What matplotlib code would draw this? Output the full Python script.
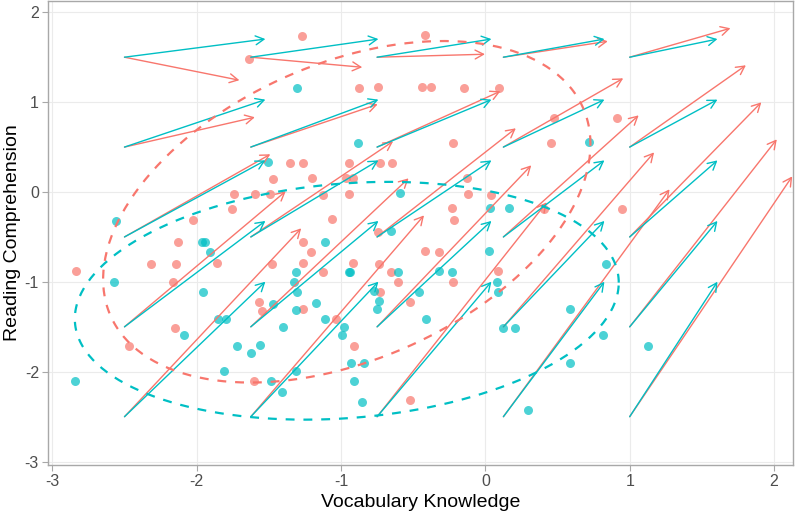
import numpy as np
import matplotlib.pyplot as plt
from matplotlib.patches import FancyArrowPatch

plt.rcParams['font.family'] = ['Liberation Sans', 'DejaVu Sans']
plt.rcParams['axes.unicode_minus'] = False

RED = '#F8766D'
TEAL = '#00BFC4'

# observed scores
red_x = [-1.267, -1.64, -0.415, -0.872, -0.741, -0.436, -0.374, -0.145, 0.098, 0.479,
         0.915, 0.458, -0.221, -1.351, -1.261, -0.942, -0.727, -0.644, -1.468, -1.198,
         -0.963, -0.914, -0.13, -1.738, -1.593, -1.489, -1.122, -0.942, -0.117, 0.042,
         -1.753, -0.228, 0.403, 0.95, -2.023, -1.06, -0.214, -2.127, -1.261, -1.206,
         -0.741, -0.415, -0.318, -2.834, -2.314, -2.141, -1.856, -1.475, -1.26, -0.914,
         -0.734, -1.122, -0.651, 0.091, -2.161, -0.602, -0.221, -0.727, -1.566, -1.545,
         -1.261, -1.032, -0.519, -2.148, -2.466, -0.907, -1.6, -0.519]
red_y = [1.733, 1.478, 1.744, 1.156, 1.167, 1.167, 1.167, 1.156, 1.156, 0.822,
         0.822, 0.544, 0.544, 0.322, 0.322, 0.322, 0.322, 0.322, 0.144, 0.156,
         0.156, 0.156, 0.156, -0.022, -0.022, -0.022, -0.033, -0.022, -0.022, -0.033,
         -0.189, -0.178, -0.189, -0.189, -0.311, -0.3, -0.311, -0.556, -0.556, -0.667,
         -0.444, -0.656, -0.667, -0.878, -0.8, -0.8, -0.789, -0.8, -0.789, -0.789,
         -0.8, -0.889, -0.889, -0.878, -1.0, -1.0, -1.0, -1.111, -1.222, -1.322,
         -1.3, -1.411, -1.222, -1.511, -1.711, -1.711, -2.1, -2.311]

teal_x = [-1.302, -0.88, 0.721, -1.503, -0.588, 0.035, 0.167, -2.556, -1.96, -1.945,
          -1.905, -1.108, -0.651, 0.028, 0.839, -1.309, -0.942, -0.935, -0.602, -0.318,
          -0.228, -2.57, -1.953, -1.323, -1.302, -0.769, -0.457, 0.084, 0.091, -1.468,
          -1.17, -0.734, -1.309, -0.748, 0.583, -1.849, -1.794, -1.108, -0.408, -1.399,
          -0.976, 0.125, 0.202, -2.085, -0.99, 0.818, -1.718, -1.559, -1.621, 1.13,
          -0.928, -0.838, 0.583, -1.808, -1.309, -2.84, -1.482, -0.907, -1.406, -0.858,
          0.292]
teal_y = [1.156, 0.544, 0.556, 0.333, -0.011, -0.178, -0.178, -0.322, -0.556, -0.556,
          -0.667, -0.556, -0.433, -0.656, -0.8, -0.889, -0.889, -0.889, -0.889, -0.878,
          -0.889, -1.0, -1.111, -1.0, -1.111, -1.1, -1.111, -1.0, -1.111, -1.244,
          -1.233, -1.211, -1.311, -1.3, -1.3, -1.411, -1.411, -1.411, -1.411, -1.5,
          -1.5, -1.511, -1.511, -1.589, -1.589, -1.589, -1.711, -1.7, -1.789, -1.711,
          -1.9, -1.9, -1.9, -1.989, -1.989, -2.1, -2.1, -2.1, -2.222, -2.333,
          -2.422]

# vector field: start grid and displacement per start point (rows = y, cols = x)
grid_x = [-2.5, -1.625, -0.75, 0.125, 1.0]
grid_y = [-2.5, -1.5, -0.5, 0.5, 1.5]

red_dx = [[1.224, 1.200, 1.175, 1.151, 1.126],
          [1.117, 1.093, 1.068, 1.044, 1.019],
          [1.010, 0.986, 0.961, 0.937, 0.912],
          [0.903, 0.879, 0.854, 0.830, 0.805],
          [0.796, 0.772, 0.747, 0.723, 0.698]]
red_dy = [[2.096, 2.240, 2.385, 2.530, 2.674],
          [1.508, 1.652, 1.797, 1.941, 2.086],
          [0.920, 1.064, 1.209, 1.353, 1.498],
          [0.332, 0.476, 0.621, 0.765, 0.910],
          [-0.256, -0.112, 0.033, 0.177, 0.322]]
teal_dx = [[0.976, 0.884, 0.792, 0.700, 0.608],
           [0.976, 0.884, 0.792, 0.700, 0.608],
           [0.976, 0.884, 0.792, 0.700, 0.608],
           [0.976, 0.884, 0.792, 0.700, 0.608],
           [0.976, 0.884, 0.792, 0.700, 0.608]]
teal_dy = [[1.502, 1.502, 1.502, 1.502, 1.502],
           [1.178, 1.178, 1.178, 1.178, 1.178],
           [0.852, 0.852, 0.852, 0.852, 0.852],
           [0.528, 0.528, 0.528, 0.528, 0.528],
           [0.202, 0.202, 0.202, 0.202, 0.202]]

# 95% ellipses: centre and shape matrix
red_centre = (-0.96, -0.22)
red_shape = [[2.85, 1.27], [1.27, 3.61]]
teal_centre = (-0.96, -1.21)
teal_shape = [[3.55, 0.38], [0.38, 1.75]]

fig = plt.figure(figsize=(8, 5.13), dpi=100)
ax = fig.add_axes([0.06, 0.094, 0.931, 0.904])

ax.scatter(red_x, red_y, s=42, color=RED, alpha=0.7, linewidths=0, zorder=2)
ax.scatter(teal_x, teal_y, s=42, color=TEAL, alpha=0.7, linewidths=0, zorder=2)

gx, gy = np.meshgrid(grid_x, grid_y)
for dx, dy, col in [(red_dx, red_dy, RED), (teal_dx, teal_dy, TEAL)]:
    dx = np.array(dx)
    dy = np.array(dy)
    for x0, y0, u, v in zip(gx.ravel(), gy.ravel(), dx.ravel(), dy.ravel()):
        ax.add_patch(FancyArrowPatch((x0, y0), (x0 + u, y0 + v),
                                     arrowstyle='->,head_length=6,head_width=3.2',
                                     mutation_scale=1, color=col, lw=1.0,
                                     shrinkA=0, shrinkB=0, zorder=3))

t = np.linspace(0, 2 * np.pi, 300)
for centre, shape, col in [(red_centre, red_shape, RED), (teal_centre, teal_shape, TEAL)]:
    L = np.linalg.cholesky(np.array(shape))
    pts = L @ np.vstack([np.cos(t), np.sin(t)])
    ax.plot(pts[0] + centre[0], pts[1] + centre[1], color=col, lw=1.6,
            dashes=(4, 4), zorder=4)

ax.set_xlim(-3.03, 2.13)
ax.set_ylim(-3.035, 2.125)
ax.set_xticks([-3, -2, -1, 0, 1, 2])
ax.set_yticks([-3, -2, -1, 0, 1, 2])
ax.grid(True, color='#EBEBEB', lw=0.8, zorder=0)
ax.set_axisbelow(True)
for sp in ax.spines.values():
    sp.set_color('#A8A8A8')
    sp.set_linewidth(1.0)
ax.tick_params(colors='#A8A8A8', labelcolor='#4D4D4D', labelsize=11.5, length=4,
               width=0.8, pad=2.5)
ax.set_xlabel('Vocabulary Knowledge', fontsize=14, color='black', labelpad=4)
ax.set_ylabel('Reading Comprehension', fontsize=14, color='black', labelpad=3)

fig.savefig('out.png', dpi=100)
